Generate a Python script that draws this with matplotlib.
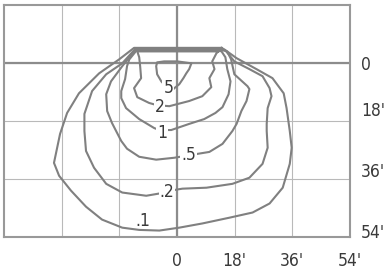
"""
Isofootcandle plot: .1 to 5 fc contours, grid in feet.
"""
import matplotlib
matplotlib.use('Agg')
import matplotlib.pyplot as plt
import matplotlib.transforms as mtransforms
from matplotlib import font_manager

# Font estreta si n'hi ha
noms = {f.name for f in font_manager.fontManager.ttflist}
condensed = [f.name for f in font_manager.fontManager.ttflist
             if f.stretch in ('condensed', 'semi-condensed') and 'Sans' in f.name and 'Mono' not in f.name]
if 'Liberation Sans Narrow' in noms:
    font_family, font_stretch, fsize = 'Liberation Sans Narrow', 'normal', 13
elif condensed:
    font_family, font_stretch, fsize = condensed[0], 'condensed', 12.5
else:
    font_family, font_stretch, fsize = 'Liberation Sans', 'normal', 12
plt.rcParams['font.family'] = [font_family, 'DejaVu Sans']
plt.rcParams['font.stretch'] = font_stretch

# --- Dades (peus) ---
x_ticks = [-36, -18, 0, 18, 36, 54]
x_labels = ['', '', '0', "18'", "36'", "54'"]
y_ticks = [0, 18, 36, 54]
y_labels = ['0', "18'", "36'", "54'"]

# contorn .1
x_01 = [13.9, -13.4, -18.1, -24.3, -30.6, -34.3, -36.5, -38.4, -36.8, -33.1, -28.4, -23.4,
        -17.1, -11.8, -5.5, 0.7, 7.9, 16.4, 23.6, 28.9, 33.0, 35.2, 35.8, 35.2, 34.2, 33.3,
        29.8, 24.8, 18.6, 14.8, 13.9]
y_01 = [-4.7, -4.7, -1.1, 3.2, 9.4, 15.5, 22.0, 31.0, 35.0, 39.6, 44.6, 48.6,
        51.1, 51.8, 52.0, 51.1, 49.8, 48.0, 46.4, 43.6, 38.7, 31.3, 26.3, 21.1, 14.0, 9.4,
        4.7, 1.9, -1.5, -4.2, -4.7]

# contorn .2
x_02 = [13.2, -13.0, -17.1, -22.1, -26.5, -28.9, -28.9, -28.4, -25.9, -22.1, -17.1, -9.6,
        -5.5, -0.2, 1.7, 9.2, 17.3, 22.6, 26.7, 28.3, 28.0, 28.0, 28.3, 29.5, 28.9, 26.7,
        22.6, 17.9, 15.1, 13.2]
y_02 = [-4.4, -4.4, 0.1, 3.5, 8.7, 15.8, 21.1, 27.3, 32.5, 37.5, 40.2, 41.2,
        40.5, 39.3, 39.0, 38.7, 37.5, 35.6, 31.3, 26.3, 21.1, 18.9, 14.0, 10.3, 7.8, 4.1,
        1.9, -0.5, -3.9, -4.4]

# contorn .5
x_05 = [13.6, -13.0, -17.1, -20.6, -22.1, -21.8, -20.3, -18.7, -17.4, -15.6, -11.8, -6.5,
        -0.8, 6.4, 10.1, 14.2, 17.3, 18.6, 20.1, 21.7, 22.6, 22.0, 17.9, 16.9, 15.7, 13.6]
y_05 = [-4.1, -4.1, 1.0, 5.7, 9.7, 14.9, 18.6, 21.7, 24.2, 26.6, 29.1, 30.0,
        29.4, 28.2, 27.6, 25.1, 21.1, 18.9, 14.9, 11.8, 8.1, 7.2, 3.5, -1.1, -3.6, -4.1]

# contorn 1
x_1 = [13.2, -12.7, -14.9, -15.6, -16.2, -17.4, -17.4, -15.9, -11.8, -7.1, -5.5,
       -1.8, 3.8, 8.5, 12.0, 14.2, 16.1, 16.7, 15.7, 15.1, 13.9, 13.2]
y_1 = [-3.8, -3.8, -1.1, 1.0, 5.0, 8.7, 10.9, 14.0, 17.4, 20.2, 20.8,
       20.8, 18.9, 17.4, 15.5, 13.7, 9.7, 5.7, 1.9, -1.8, -3.6, -3.8]

# contorn 2
x_2 = [12.9, -12.4, -11.8, -11.5, -11.2, -13.4, -12.4, -8.7, -6.2,
       -2.4, 3.8, 7.9, 10.7, 10.1, 11.7, 11.0, 12.3, 12.9]
y_2 = [-3.6, -3.6, -1.8, 1.0, 4.7, 7.8, 10.6, 12.4, 13.1,
       13.4, 11.8, 10.3, 7.5, 4.7, 1.9, -0.5, -3.0, -3.6]

# contorn 5
x_5 = [-1.2, 0.7, 2.0, 2.9, 3.8, 4.5, 0.1, -4.0, -6.2, -6.5, -6.2, -4.9, -3.5, -1.2]
y_5 = [8.1, 6.6, 4.7, 3.2, 1.9, 0.1, -0.5, -0.5, -0.2, 1.0, 3.5, 5.7, 7.2, 8.1]

contours = [(x_01, y_01), (x_02, y_02), (x_05, y_05), (x_1, y_1), (x_2, y_2), (x_5, y_5)]

label_text = ['.1', '.2', '.5', '1', '2', '5']
label_x = [-10.8, -3.2, 3.6, -4.6, -5.5, -2.7]
label_y = [48.9, 40.0, 28.7, 21.8, 13.8, 7.8]
label_inline = [False, True, True, True, True, True]

# --- Gràfic ---
fig = plt.figure(figsize=(3.84, 2.72), dpi=100)
ax = fig.add_axes([4 / 384, 1 - 237 / 272, 346 / 384, 232 / 272])

ax.set_xlim(-54, 54)
ax.set_ylim(54, -18)

ax.set_xticks(x_ticks)
ax.set_xticklabels(x_labels)
ax.set_yticks(y_ticks)
ax.set_yticklabels(y_labels)
ax.yaxis.tick_right()
ax.tick_params(length=0, labelsize=fsize, labelcolor='#3a3a3a')
ax.tick_params(axis='x', pad=11)
ax.tick_params(axis='y', pad=8)

# Etiquetes de l'eix Y una mica per sobre de la línia
shifts = [0, 12, 9, 6]
for lab, dy in zip(ax.get_yticklabels(), shifts):
    lab.set_transform(lab.get_transform() + mtransforms.ScaledTranslation(0, dy / 100, fig.dpi_scale_trans))

ax.grid(True, color='#b9b9b9', linewidth=0.8)
ax.axhline(0, color='#8c8c8c', linewidth=1.6)
ax.axvline(0, color='#8c8c8c', linewidth=1.6)
for s in ax.spines.values():
    s.set_color('#999999')
    s.set_linewidth(1.5)

for xs, ys in contours:
    ax.plot(xs, ys, color='#808080', linewidth=1.5, solid_joinstyle='round')

for t, lx, ly, inl in zip(label_text, label_x, label_y, label_inline):
    kw = dict(ha='center', va='center', fontsize=fsize, color='#3a3a3a')
    if inl:
        kw['bbox'] = dict(boxstyle='square,pad=0.05', fc='white', ec='none')
    ax.text(lx, ly, t, **kw)

fig.savefig('out.png', dpi=100)
